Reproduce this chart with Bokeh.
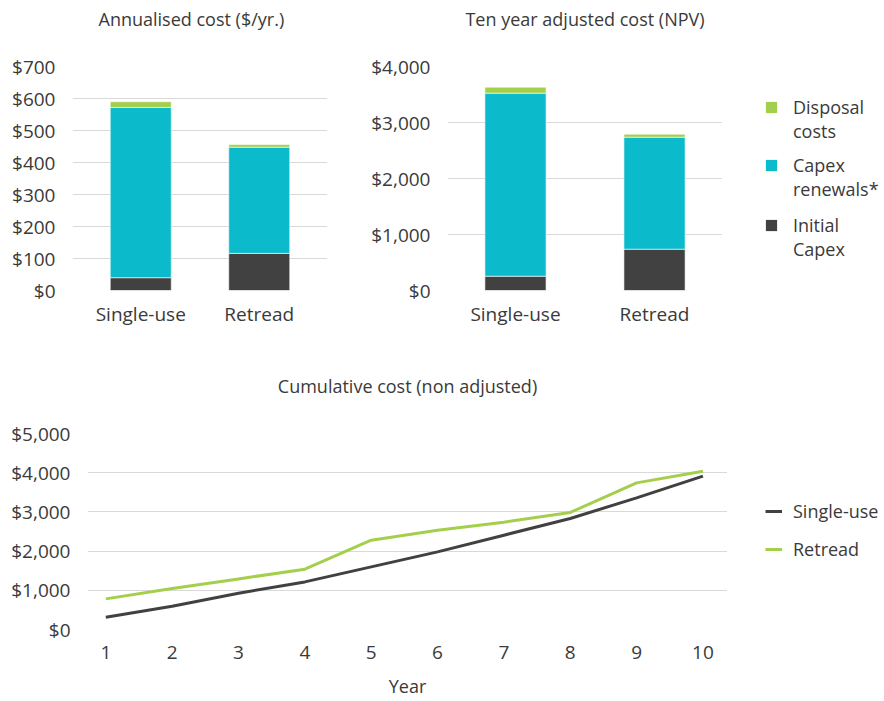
from bokeh.plotting import figure
from bokeh.models import (ColumnDataSource, FactorRange, FixedTicker, NumeralTickFormatter,
                          Legend, LegendItem, Range1d)
from bokeh.layouts import column, row
from bokeh.embed import file_html
from bokeh.resources import INLINE

# --- data -------------------------------------------------------------
options = ["Single-use", "Retread"]
stack_names = ["Initial Capex", "Capex renewals*", "Disposal costs"]

annual_initial = [40, 116]
annual_renewals = [532, 332]
annual_disposal = [18, 8]

npv_initial = [255, 738]
npv_renewals = [3269, 2000]
npv_disposal = [107, 54]

years = [1, 2, 3, 4, 5, 6, 7, 8, 9, 10]
cumulative_single = [314, 594, 926, 1214, 1597, 1980, 2406, 2832, 3358, 3911]
cumulative_retread = [781, 1046, 1291, 1538, 2278, 2533, 2738, 2985, 3741, 4038]

# --- styling ----------------------------------------------------------
FONT = "Open Sans"
TEXT = "#3a3a3a"
GRID = "#d9d9d9"
DARK = "#414142"
CYAN = "#0bbbcc"
GREEN = "#a4cf4c"
stack_colors = [DARK, CYAN, GREEN]
TICK_SIZE = "19px"
KEY_SIZE = "18px"


def style(p, title, title_align="center", title_offset=0, x_standoff=10):
    p.title.text = title
    p.title.align = title_align
    p.title.offset = title_offset
    p.title.text_font = FONT
    p.title.text_font_size = "18px"
    p.title.text_font_style = "normal"
    p.title.text_color = TEXT
    p.title.standoff = 0
    p.title.padding = dict(left=0, right=0, top=0, bottom=36)
    p.outline_line_color = None
    p.xgrid.grid_line_color = None
    p.ygrid.grid_line_color = GRID
    p.ygrid.grid_line_width = 1
    for ax in (p.xaxis[0], p.yaxis[0]):
        ax.axis_line_color = None
        ax.major_tick_line_color = None
        ax.minor_tick_line_color = None
        ax.major_tick_out = 0
        ax.major_tick_in = 0
        ax.minor_tick_out = 0
        ax.minor_tick_in = 0
        ax.major_label_text_font = FONT
        ax.major_label_text_font_size = TICK_SIZE
        ax.major_label_text_color = TEXT
    p.yaxis.major_label_standoff = 17
    p.xaxis.major_label_standoff = x_standoff


def stacked_bars(values, width, height, borders, ymax, yticks, pad, bar_w, title,
                 align, offset):
    src = ColumnDataSource(dict(option=options,
                                **{n: v for n, v in zip(stack_names, values)}))
    xr = FactorRange(*options, range_padding=pad, range_padding_units="absolute")
    p = figure(x_range=xr, y_range=Range1d(0, ymax), width=width, height=height,
               output_backend="svg", toolbar_location=None,
               min_border_left=borders[0], min_border_right=borders[1],
               min_border_top=borders[2], min_border_bottom=borders[3])
    p.vbar_stack(stack_names, x="option", width=bar_w, color=stack_colors,
                 line_color="white", line_width=0.6, source=src)
    p.yaxis.ticker = FixedTicker(ticks=yticks)
    p.yaxis.formatter = NumeralTickFormatter(format="$0,0")
    style(p, title, align, offset)
    return p


def legend_panel(width, height):
    p = figure(width=width, height=height, x_range=Range1d(0, 1), y_range=Range1d(0, 1),
               x_axis_type=None, y_axis_type=None, output_backend="svg",
               toolbar_location=None, min_border=0)
    p.outline_line_color = None
    return p


def legend_box(items, location, glyph_w, spacing, standoff):
    return Legend(items=items, location=location, orientation="vertical",
                  glyph_width=glyph_w, glyph_height=14, label_standoff=standoff,
                  spacing=spacing, padding=0, margin=0, border_line_color=None,
                  background_fill_alpha=0, label_text_font=FONT,
                  label_text_font_size=KEY_SIZE, label_text_color=TEXT)


p1 = stacked_bars([annual_initial, annual_renewals, annual_disposal],
                  340, 340, (72, 13, 66, 50), 700, list(range(0, 701, 100)),
                  0.076, 0.515, "Annualised cost ($/yr.)", "left", 26)

p2 = stacked_bars([npv_initial, npv_renewals, npv_disposal],
                  382, 340, (107, 0, 66, 50), 4000, list(range(0, 4001, 1000)),
                  -0.011, 0.44, "Ten year adjusted cost (NPV)", "center", 0)

# key for the stacked bars: one two-line entry per cost component
bar_key = legend_panel(162, 340)
blank = bar_key.vbar(x=[0], top=[0], width=0, fill_alpha=0, line_alpha=0)
swatches = {name: bar_key.vbar(x=[0], top=[0], width=0, color=c, line_color=None)
            for name, c in zip(stack_names, stack_colors)}
key_rows = [("Disposal costs", "Disposal", "costs", 147),
            ("Capex renewals*", "Capex", "renewals*", 89),
            ("Initial Capex", "Initial", "Capex", 29)]
for name, first, second, vy in key_rows:
    bar_key.add_layout(legend_box([LegendItem(label=first, renderers=[swatches[name]]),
                                   LegendItem(label=second, renderers=[blank])],
                                  (42, vy), 14, 0, 15))

# --- cumulative line chart -------------------------------------------
p3 = figure(width=727, height=361, x_range=Range1d(0.724, 10.37), y_range=Range1d(0, 5000),
            output_backend="svg", toolbar_location=None,
            min_border_left=87, min_border_right=0, min_border_top=93, min_border_bottom=72)
p3.line(years, cumulative_single, line_color=DARK, line_width=3)
p3.line(years, cumulative_retread, line_color=GREEN, line_width=3)
p3.xaxis.ticker = FixedTicker(ticks=years)
p3.yaxis.ticker = FixedTicker(ticks=list(range(0, 5001, 1000)))
p3.yaxis.formatter = NumeralTickFormatter(format="$0,0")
style(p3, "Cumulative cost (non adjusted)", "center", 0, 16)
p3.xaxis.axis_label = "Year"
p3.xaxis.axis_label_text_font = FONT
p3.xaxis.axis_label_text_font_size = KEY_SIZE
p3.xaxis.axis_label_text_font_style = "normal"
p3.xaxis.axis_label_text_color = TEXT
p3.xaxis.axis_label_standoff = 12

line_key = legend_panel(157, 361)
k_single = line_key.line(x=[0], y=[0], line_color=DARK, line_width=3)
k_retread = line_key.line(x=[0], y=[0], line_color=GREEN, line_width=3)
line_key.add_layout(legend_box([LegendItem(label="Single-use", renderers=[k_single]),
                                LegendItem(label="Retread", renderers=[k_retread])],
                               (38, 68), 17, 14, 11))

page = column(row(p1, p2, bar_key), row(p3, line_key))
open("out.html", "w").write(file_html(page, INLINE))
